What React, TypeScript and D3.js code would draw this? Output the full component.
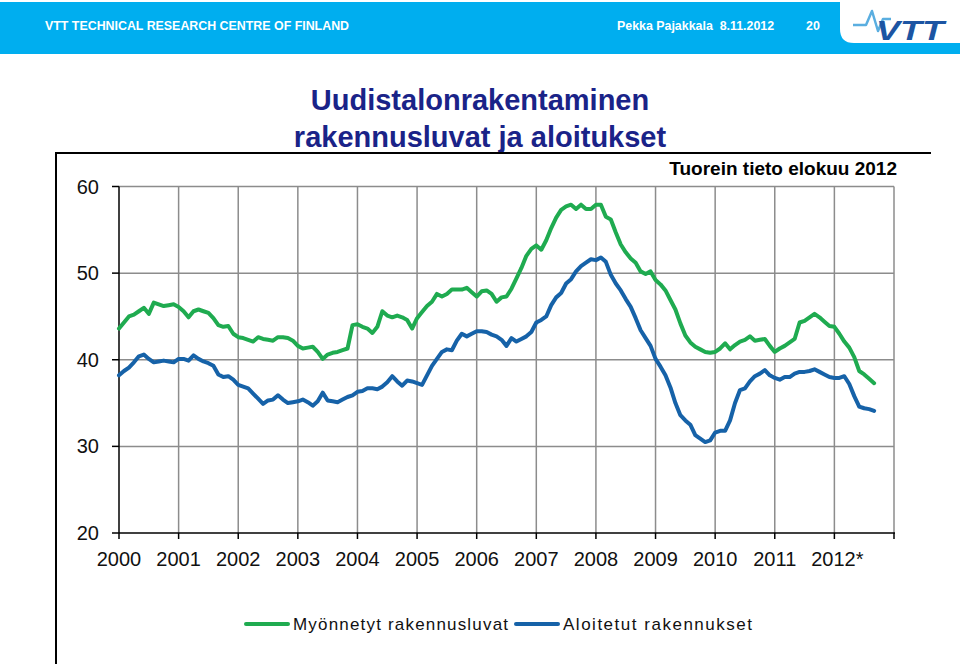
import React from 'react';
import * as d3 from 'd3';

const yearLabels = ['2000','2001','2002','2003','2004','2005','2006','2007','2008','2009','2010','2011','2012*'];
const yTicks = [20, 30, 40, 50, 60];
const seriesNames = ['Myönnetyt rakennusluvat', 'Aloitetut rakennukset'];

// Monthly values, Jan 2000 onwards
const permits = [
  43.6,44.3,45.0,45.2,45.6,46.0,45.3,46.6,46.4,46.2,46.3,46.4,
  46.1,45.6,44.9,45.6,45.8,45.6,45.4,44.8,44.0,43.8,43.9,43.0,
  42.6,42.5,42.3,42.1,42.6,42.4,42.3,42.2,42.6,42.6,42.5,42.2,
  41.6,41.3,41.4,41.5,40.9,40.1,40.6,40.8,40.9,41.1,41.3,44.0,
  44.1,43.8,43.6,43.1,43.8,45.6,45.1,44.9,45.1,44.9,44.6,43.6,
  44.8,45.5,46.2,46.7,47.6,47.3,47.6,48.1,48.1,48.1,48.3,47.8,
  47.3,47.9,48.0,47.6,46.7,47.2,47.3,48.2,49.4,50.6,52.0,52.8,
  53.2,52.7,53.8,55.2,56.4,57.3,57.7,57.9,57.4,57.9,57.4,57.4,
  57.9,57.9,56.5,56.2,54.7,53.3,52.4,51.7,51.2,50.2,49.9,50.2,
  49.2,48.7,48.0,46.9,45.8,44.2,42.8,42.0,41.5,41.2,40.9,40.8,
  40.9,41.3,41.9,41.2,41.7,42.1,42.3,42.7,42.2,42.3,42.4,41.6,
  40.9,41.3,41.6,42.0,42.4,44.3,44.5,44.9,45.3,44.9,44.4,43.9,
  43.8,43.0,42.1,41.4,40.3,38.7,38.3,37.8,37.3
];
const starts = [
  38.2,38.7,39.1,39.7,40.4,40.6,40.1,39.7,39.8,39.9,39.8,39.7,
  40.1,40.1,39.9,40.5,40.1,39.8,39.6,39.3,38.3,38.0,38.1,37.7,
  37.1,36.9,36.7,36.1,35.5,34.9,35.3,35.4,35.9,35.4,35.0,35.1,
  35.2,35.4,35.1,34.7,35.2,36.2,35.3,35.2,35.1,35.4,35.7,35.9,
  36.3,36.4,36.7,36.7,36.6,36.9,37.4,38.1,37.5,37.0,37.6,37.5,
  37.3,37.1,38.2,39.3,40.1,40.9,41.2,41.1,42.2,43.0,42.7,43.0,
  43.3,43.3,43.2,42.9,42.7,42.3,41.6,42.5,42.1,42.4,42.7,43.2,
  44.3,44.6,45.0,46.3,47.2,47.7,48.8,49.3,50.2,50.8,51.2,51.6,
  51.5,51.8,51.3,49.8,48.8,48.0,47.0,46.1,44.8,43.4,42.5,41.6,
  40.1,39.2,38.2,36.8,35.0,33.6,33.0,32.5,31.3,30.9,30.5,30.7,
  31.6,31.8,31.8,33.0,35.0,36.5,36.7,37.5,38.1,38.4,38.8,38.2,
  37.9,37.7,38.0,38.0,38.4,38.6,38.6,38.7,38.9,38.6,38.3,38.0,
  37.9,37.9,38.1,37.2,35.8,34.6,34.4,34.3,34.1
];

const GREEN = '#1fab50';
const BLUE = '#1662a8';
const FONT = '"Liberation Sans", Arial, Helvetica, sans-serif';

export default function App() {
  const x = d3.scaleLinear().domain([0, 156]).range([119, 894]);
  const y = d3.scaleLinear().domain([20, 60]).range([533, 186.5]);
  const line = d3.line<number>().x((_, i) => x(i)).y(d => y(d));
  const yearTicks = d3.range(0, 157, 12);

  return (
    <svg width={960} height={664} style={{ position: 'absolute', left: 0, top: 0, background: '#fff' }} fontFamily={FONT}>
      {/* header */}
      <rect x={0} y={2} width={960} height={52} fill="#00aeef" />
      <path d="M840,0 H960 V43 H854 Q840,43 840,29 Z" fill="#fff" />
      <text x={45} y={29.5} fill="#fff" fontWeight="bold" fontSize={12.4}>VTT TECHNICAL RESEARCH CENTRE OF FINLAND</text>
      <text x={617} y={29.5} fill="#fff" fontWeight="bold" fontSize={12.4} style={{ whiteSpace: 'pre' }}>Pekka Pajakkala  8.11.2012</text>
      <text x={806} y={29.5} fill="#fff" fontWeight="bold" fontSize={12.4}>20</text>
      <path d="M853,25 L866,25 L872,11 L878,31 L883,19 L891,19" fill="none" stroke="#5aaee0" strokeWidth={2.5} strokeLinejoin="round" />
      <text x={876} y={40} fill="#1c55a3" fontWeight="900" fontStyle="italic" fontSize={28} textLength={68} lengthAdjust="spacingAndGlyphs">VTT</text>

      {/* title */}
      <text x={480} y={110} textAnchor="middle" fill="#1a2388" fontWeight="bold" fontSize={29}>Uudistalonrakentaminen</text>
      <text x={480} y={147} textAnchor="middle" fill="#1a2388" fontWeight="bold" fontSize={29}>rakennusluvat ja aloitukset</text>

      {/* frame */}
      <line x1={56} x2={931} y1={153} y2={153} stroke="#000" strokeWidth={2} />
      <line x1={56} x2={56} y1={152} y2={664} stroke="#000" strokeWidth={2} />

      <text x={897} y={175} textAnchor="end" fill="#000" fontWeight="bold" fontSize={19}>Tuorein tieto elokuu 2012</text>

      {/* grid */}
      {yTicks.filter(v => v > 20).map(v => (
        <line key={'gy' + v} x1={119} x2={894} y1={y(v)} y2={y(v)} stroke="#8c8c8c" strokeWidth={1.5} />
      ))}
      {yearTicks.filter(m => m > 0).map(m => (
        <line key={'gx' + m} x1={x(m)} x2={x(m)} y1={y(60)} y2={533} stroke="#8c8c8c" strokeWidth={1.5} />
      ))}

      {/* axes */}
      <line x1={119} x2={119} y1={y(60)} y2={533} stroke="#000" strokeWidth={1.5} />
      <line x1={119} x2={895} y1={533} y2={533} stroke="#000" strokeWidth={1.5} />
      {yTicks.map(v => (
        <g key={'yt' + v}>
          <line x1={112} x2={119} y1={y(v)} y2={y(v)} stroke="#000" strokeWidth={1.5} />
          <text x={99} y={y(v)} dy="0.35em" textAnchor="end" fontSize={20} fill="#111">{v}</text>
        </g>
      ))}
      {yearTicks.map(m => (
        <line key={'xt' + m} x1={x(m)} x2={x(m)} y1={533} y2={539} stroke="#000" strokeWidth={1.5} />
      ))}
      {yearLabels.map((lab, i) => (
        <text key={'xl' + lab} x={x(i * 12) + (lab.endsWith('*') ? 3 : 0)} y={566} textAnchor="middle" fontSize={20} fill="#111">{lab}</text>
      ))}

      {/* series */}
      <path d={line(permits) || ''} fill="none" stroke={GREEN} strokeWidth={4} strokeLinejoin="round" strokeLinecap="round" />
      <path d={line(starts) || ''} fill="none" stroke={BLUE} strokeWidth={4} strokeLinejoin="round" strokeLinecap="round" />

      {/* legend */}
      <line x1={246} x2={288} y1={624} y2={624} stroke={GREEN} strokeWidth={4} strokeLinecap="round" />
      <text x={293} y={630} fontSize={17} fill="#111" textLength={215} lengthAdjust="spacing">{seriesNames[0]}</text>
      <line x1={516} x2={558} y1={624} y2={624} stroke={BLUE} strokeWidth={4} strokeLinecap="round" />
      <text x={563} y={630} fontSize={17} fill="#111" textLength={189} lengthAdjust="spacing">{seriesNames[1]}</text>
    </svg>
  );
}
